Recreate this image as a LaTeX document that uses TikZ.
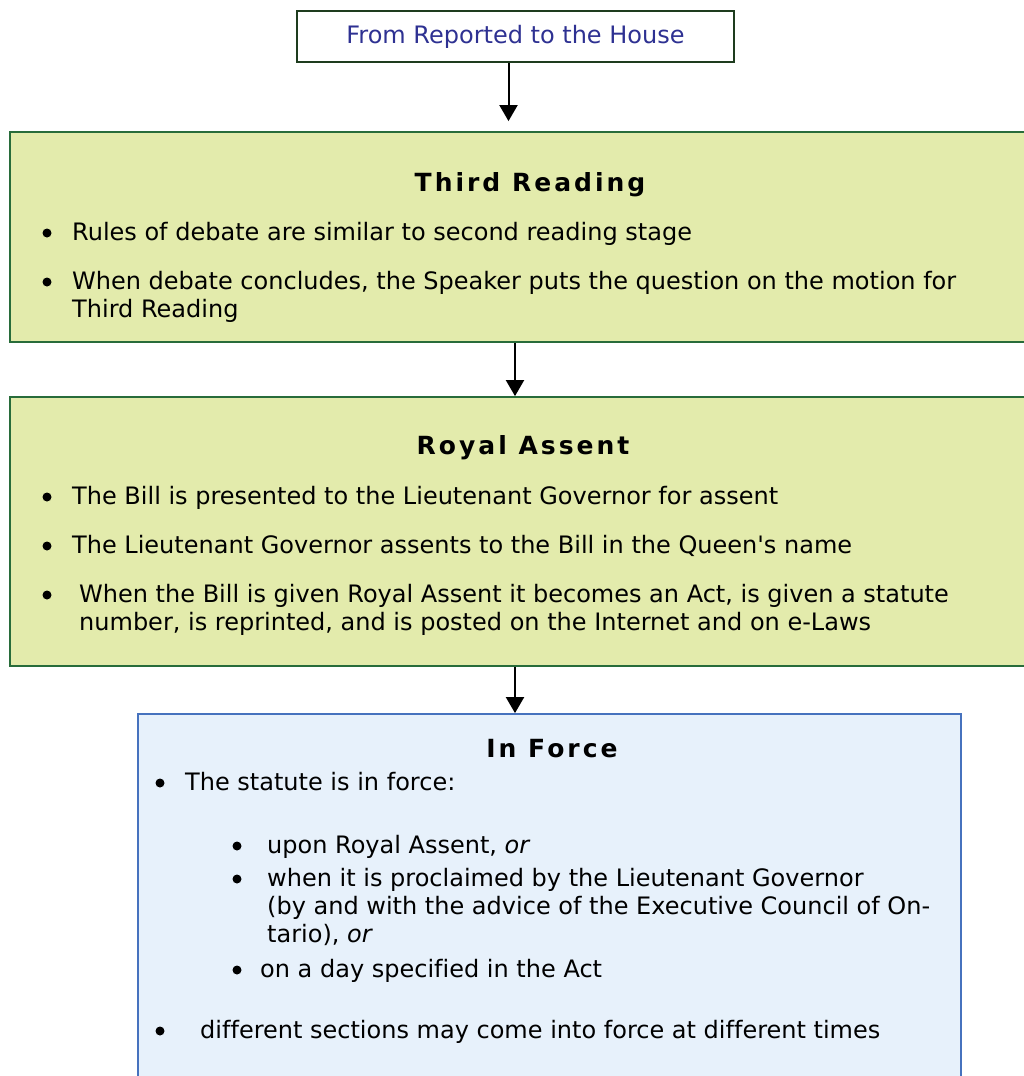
\documentclass[tikz,border=0pt]{standalone}
\usepackage{fontspec}
\setmainfont{DejaVu Sans}[Ligatures={NoCommon}]
\usetikzlibrary{arrows.meta}
\definecolor{topborder}{RGB}{30,60,30}
\definecolor{toptext}{RGB}{46,49,146}
\definecolor{greenfill}{RGB}{227,235,172}
\definecolor{greenline}{RGB}{40,108,58}
\definecolor{bluefill}{RGB}{231,241,251}
\definecolor{blueline}{RGB}{70,114,190}
\tikzset{
  txt/.style={anchor=base west, inner sep=0pt, font=\fontsize{24}{28}\selectfont},
  ttl/.style={anchor=base, inner sep=0pt, font=\fontsize{25}{28}\selectfont\bfseries\addfontfeature{LetterSpace=12}},
  dot/.style={circle, fill=black, inner sep=0pt, minimum size=9pt},
  arr/.style={-{Triangle[length=16pt,width=18pt]}, line width=2pt},
  greenbox/.style={draw=greenline, fill=greenfill, line width=1.8pt, inner sep=0pt},
  bluebox/.style={draw=blueline, fill=bluefill, line width=1.8pt, inner sep=0pt}
}
\begin{document}
\begin{tikzpicture}[x=1pt,y=-1pt]
\useasboundingbox (0,0) rectangle (1024,1076);
\clip (0,0) rectangle (1024,1076);
% top box
\node[draw=topborder, line width=1.8pt, fill=white, minimum width=437pt, minimum height=51pt, inner sep=0pt,
      text=toptext, font=\fontsize{24}{28}\selectfont] (top) at (515.5,36.5) {From Reported to the House};
% boxes
\node[greenbox, minimum width=1030pt, minimum height=210pt] (tr) at (525,237) {};
\node[greenbox, minimum width=1030pt, minimum height=269pt] (ra) at (525,531.5) {};
\node[bluebox, minimum width=823pt, minimum height=420pt] (inf) at (549.5,924) {};
% connectors
\coordinate (a1s) at ([xshift=-7pt]top.south);
\draw[arr] (a1s) -- ([yshift=10pt]a1s |- tr.north);
\coordinate (a2s) at ([xshift=-10pt]tr.south);
\draw[arr] (a2s) -- (a2s |- ra.north);
\coordinate (a3s) at ([xshift=-10pt]ra.south);
\draw[arr] (a3s) -- (a3s |- inf.north);
% Third Reading
\node[ttl] (trt) at (530,191) {Third Reading};
\node[dot] (trb1) at (47,233) {};
\node[txt] (tr1) at (72,240) {Rules of debate are similar to second reading stage};
\node[dot] (trb2) at (47,282) {};
\node[txt] (tr2) at (72,289) {When debate concludes, the Speaker puts the question on the motion for};
\node[txt] (tr3) at (72,317) {Third Reading};
% Royal Assent
\node[ttl] (rat) at (523,454) {Royal Assent};
\node[dot] (rab1) at (47,497) {};
\node[txt] (ra1) at (72,504) {The Bill is presented to the Lieutenant Governor for assent};
\node[dot] (rab2) at (47,546) {};
\node[txt] (ra2) at (72,553) {The Lieutenant Governor assents to the Bill in the Queen\textquotesingle s name};
\node[dot] (rab3) at (47,595) {};
\node[txt] (ra3) at (79,602) {When the Bill is given Royal Assent it becomes an Act, is given a statute};
\node[txt] (ra4) at (79,630) {number, is reprinted, and is posted on the Internet and on e-Laws};
% In Force
\node[ttl] (ift) at (552,757) {In Force};
\node[dot] (ifb1) at (160,783) {};
\node[txt] (if1) at (185,790) {The statute is in force:};
\node[dot] (ifb2) at (237,846) {};
\node[txt] (if2) at (267,853) {upon Royal Assent, \textit{or}};
\node[dot] (ifb3) at (237,879) {};
\node[txt] (if3) at (267,886) {when it is proclaimed by the Lieutenant Governor};
\node[txt] (if4) at (267,914) {(by and with the advice of the Executive Council of On-};
\node[txt] (if5) at (267,942) {tario), \textit{or}};
\node[dot] (ifb4) at (237,970) {};
\node[txt] (if6) at (260,977) {on a day specified in the Act};
\node[dot] (ifb5) at (160,1031) {};
\node[txt] (if7) at (200,1038) {different sections may come into force at different times};
\end{tikzpicture}
\end{document}
